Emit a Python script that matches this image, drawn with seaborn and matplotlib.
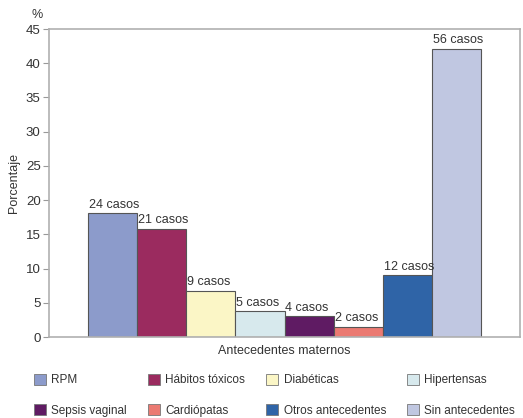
import matplotlib
matplotlib.use("Agg")
import matplotlib.pyplot as plt
from matplotlib.patches import Patch
import seaborn as sns
import pandas as pd

categorias = ["RPM", "Hábitos tóxicos", "Diabéticas", "Hipertensas",
              "Sepsis vaginal", "Cardiópatas", "Otros antecedentes", "Sin antecedentes"]
casos = [24, 21, 9, 5, 4, 2, 12, 56]
colores = ["#8c9bcb", "#9b2b5f", "#fbf6c6", "#d7e9ed",
           "#5f1b63", "#eb7a72", "#2f64a7", "#c0c7e1"]
yticks = [0, 5, 10, 15, 20, 25, 30, 35, 40, 45]

total = sum(casos)
porcentajes = [100 * c / total for c in casos]
df = pd.DataFrame({"cat": categorias, "pct": porcentajes})

sns.set_theme(style="white")
plt.rcParams["font.family"] = ["Liberation Sans", "DejaVu Sans"]

fig = plt.figure(figsize=(5.23, 4.18), dpi=100)
ax = fig.add_axes([49 / 523, 1 - 337 / 418, 471 / 523, 308 / 418])

sns.barplot(data=df, x="cat", y="pct", hue="cat", palette=colores,
            dodge=False, width=1.0, legend=False, ax=ax,
            edgecolor="#555555", linewidth=0.8, saturation=1)

for i, (c, p) in enumerate(zip(casos, porcentajes)):
    ax.text(i - 0.5 + 0.02, p + 0.4, f"{c} casos", ha="left", va="bottom",
            fontsize=9, color="#333333")

ax.set_xlim(-1.3, 8.3)
ax.set_ylim(0, 45)
ax.set_yticks(yticks)
ax.set_xticks([])
ax.set_xlabel("Antecedentes maternos", fontsize=9, color="#333333", labelpad=6)
ax.set_ylabel("Porcentaje", fontsize=9, color="#333333", labelpad=4)
ax.tick_params(axis="y", left=True, length=4, width=0.8, color="#999999",
               labelsize=9.5, labelcolor="#333333", pad=2)
for s in ax.spines.values():
    s.set_color("#b0b0b0")
    s.set_linewidth(1.2)

fig.text(37 / 523, 1 - 15 / 418, "%", fontsize=9, color="#333333",
         ha="center", va="center")

handles = [Patch(facecolor=col, edgecolor="#777777", linewidth=0.6) for col in colores]
orden = [0, 4, 1, 5, 2, 6, 3, 7]
fig.legend([handles[k] for k in orden], [categorias[k] for k in orden],
           ncol=4, loc="lower left", bbox_to_anchor=(23 / 523, -0.022),
           frameon=False, fontsize=8.5, handlelength=1.05, handleheight=1.05,
           handletextpad=0.45, columnspacing=1.75, labelspacing=1.5,
           labelcolor="#333333")

fig.savefig("out.png", dpi=100)
